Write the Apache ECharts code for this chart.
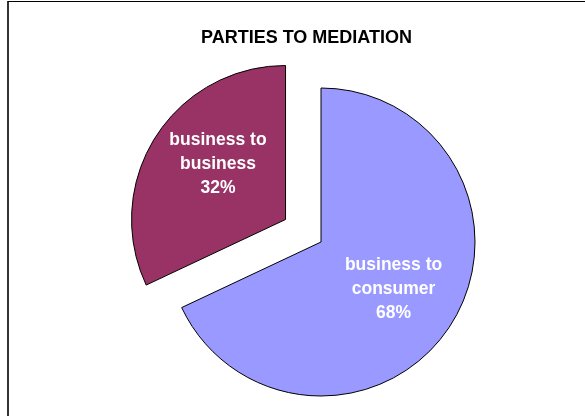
<!DOCTYPE html>
<html>
<head>
<meta charset="utf-8">
<script src="https://cdn.jsdelivr.net/npm/echarts@6/dist/echarts.min.js"></script>
<style>html,body{margin:0;padding:0;background:#fff}#c{width:585px;height:416px}</style>
</head>
<body>
<div id="c"></div>
<script>
const titleText = "PARTIES TO MEDIATION";
const categories = ["business to\nconsumer", "business to\nbusiness"];
const values = [68, 32];
const colors = ["#9999FF", "#993366"];
const labelShifts = [[5, 4], [0, -12]];

const chart = echarts.init(document.getElementById('c'), null, {renderer: 'canvas'});
chart.setOption({
  animation: false,
  backgroundColor: '#fff',
  title: {
    text: titleText,
    left: 196, top: 24,
    textStyle: {fontFamily: 'Liberation Sans, Arial, sans-serif', fontWeight: 'bold', fontSize: 18, color: '#000'}
  },
  graphic: [
    {type: 'rect', shape: {x: 7, y: 1, width: 2, height: 415}, style: {fill: '#333'}, silent: true},
    {type: 'rect', shape: {x: 8, y: 1, width: 577, height: 1}, style: {fill: '#000'}, silent: true}
  ],
  series: [{
    type: 'pie',
    center: [321, 242],
    radius: 154,
    startAngle: 90,
    clockwise: true,
    selectedMode: 'single',
    selectedOffset: 42,
    avoidLabelOverlap: false,
    emphasis: {disabled: true},
    itemStyle: {borderColor: '#000', borderWidth: 1},
    label: {
      position: 'inside',
      color: '#fff',
      fontFamily: 'Liberation Sans, Arial, sans-serif',
      fontWeight: 'bold',
      fontSize: 17.5,
      lineHeight: 24,
      align: 'center',
      formatter: p => p.name + '\n' + p.value + '%'
    },
    labelLayout: p => ({dx: labelShifts[p.dataIndex][0], dy: labelShifts[p.dataIndex][1]}),
    labelLine: {show: false},
    data: categories.map((c, i) => ({
      name: c, value: values[i],
      selected: i === 1,
      itemStyle: {color: colors[i]}
    }))
  }]
});
</script>
</body>
</html>
